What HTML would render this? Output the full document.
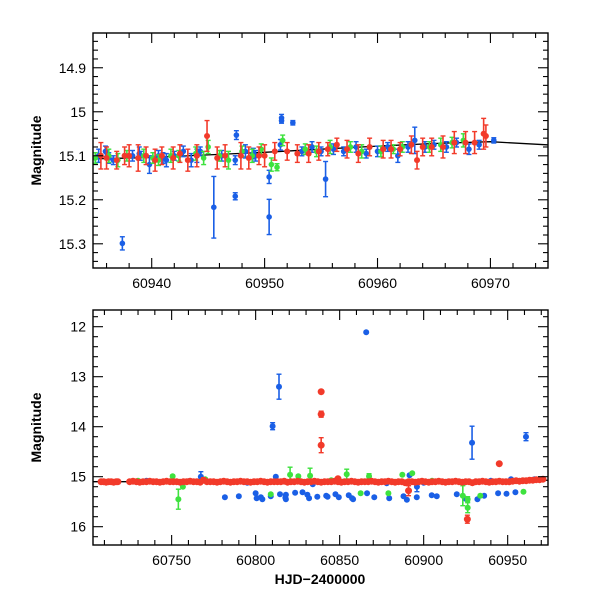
<!DOCTYPE html>
<html><head><meta charset="utf-8">
<style>
html,body{margin:0;padding:0;background:#fff;}
svg{display:block;font-family:"Liberation Sans",sans-serif;}
</style></head>
<body>
<svg id="chart" width="600" height="600" viewBox="0 0 600 600">
<defs>
<clipPath id="clipTop"><rect x="93" y="33" width="455" height="235"/></clipPath>
<clipPath id="clipBot"><rect x="93" y="310" width="455" height="235"/></clipPath>
</defs>
<g id="top"></g>
<g id="bot"></g>
</svg>
<script>
// ---------- Top panel data ----------
const topBlueDays=[60935.3,60935.9,60936.6,60937.4,60938.3,60939.0,60939.8,60940.6,60941.3,60942.0,60942.8,60943.5,60944.3,60945.5,60946.2,60947.4,60947.5,60947.4,60948.3,60949.2,60950.4,60950.4,60951.4,60951.5,60951.5,60952.5,60953.3,60954.2,60955.4,60955.0,60956.1,60957.0,60958.1,60959.0,60960.0,60960.9,60961.8,60962.7,60963.3,60964.2,60965.0,60966.1,60967.0,60968.1,60969.0,60970.3,60936.2,60938.9,60941.0,60944.0,60949.0];
const topBlueMags=[15.10,15.09,15.11,15.299,15.10,15.10,15.12,15.10,15.11,15.10,15.09,15.11,15.09,15.217,15.10,15.192,15.053,15.110,15.09,15.10,15.239,15.148,15.075,15.014,15.02,15.025,15.09,15.08,15.153,15.09,15.085,15.09,15.08,15.095,15.09,15.08,15.10,15.08,15.065,15.08,15.075,15.08,15.07,15.085,15.075,15.065,15.105,15.095,15.105,15.10,15.095];
const topBlueErrs=[0.015,0.012,0.01,0.015,0.012,0.01,0.02,0.012,0.015,0.01,0.012,0.015,0.01,0.07,0.012,0.008,0.01,0.01,0.015,0.012,0.04,0.015,0.012,0.008,0.006,0.005,0.01,0.012,0.04,0.01,0.012,0.01,0.012,0.01,0.012,0.01,0.015,0.012,0.03,0.012,0.01,0.012,0.01,0.012,0.01,0.006,0.012,0.015,0.012,0.015,0.012];
const topGreenDays=[60935.0,60936.2,60937.8,60939.3,60940.1,60941.7,60942.4,60943.9,60945.0,60946.0,60946.8,60948.0,60948.9,60949.7,60950.6,60951.1,60951.6,60953.6,60954.6,60955.8,60957.6,60958.6,60960.3,60961.4,60962.2,60964.6,60965.6,60966.6,60967.6,60937.0,60940.6,60944.6];
const topGreenMags=[15.105,15.10,15.10,15.10,15.105,15.10,15.10,15.095,15.08,15.10,15.11,15.09,15.10,15.085,15.12,15.126,15.065,15.085,15.09,15.08,15.08,15.09,15.09,15.085,15.08,15.08,15.075,15.07,15.065,15.11,15.11,15.105];
const topGreenErrs=[0.012,0.015,0.012,0.015,0.012,0.015,0.012,0.015,0.015,0.012,0.02,0.012,0.015,0.012,0.015,0.008,0.012,0.012,0.012,0.015,0.012,0.015,0.012,0.01,0.012,0.012,0.015,0.012,0.015,0.015,0.012,0.015];
const topRedDays=[60935.5,60936.0,60936.9,60937.6,60938.0,60938.8,60939.5,60940.3,60940.9,60941.9,60942.5,60943.2,60944.0,60944.9,60945.8,60946.5,60947.9,60948.6,60949.5,60950.0,60950.9,60952.0,60952.9,60953.9,60954.8,60955.6,60956.4,60957.3,60958.3,60959.3,60960.5,60961.2,60962.0,60963.0,60963.5,60964.0,60964.8,60965.8,60966.8,60967.8,60968.6,60969.4,60969.6];
const topRedMags=[15.10,15.105,15.11,15.10,15.10,15.105,15.10,15.11,15.10,15.105,15.095,15.11,15.10,15.055,15.105,15.10,15.10,15.105,15.10,15.10,15.09,15.09,15.095,15.095,15.09,15.085,15.075,15.085,15.095,15.08,15.085,15.085,15.085,15.075,15.11,15.08,15.08,15.08,15.07,15.07,15.07,15.05,15.055];
const topRedErrs=[0.03,0.025,0.02,0.02,0.025,0.03,0.02,0.025,0.02,0.025,0.02,0.025,0.025,0.035,0.025,0.025,0.03,0.025,0.02,0.025,0.02,0.02,0.02,0.02,0.02,0.015,0.015,0.02,0.02,0.02,0.02,0.02,0.015,0.02,0.02,0.02,0.02,0.025,0.025,0.025,0.025,0.035,0.025];
const topModelDays=[60933,60940,60945,60950,60955,60960,60965,60970,60975,60977];
const topModelMags=[15.108,15.104,15.098,15.092,15.085,15.078,15.072,15.068,15.075,15.078];
const topXTicks=[60940,60950,60960,60970];
const topYTicks=[14.9,15,15.1,15.2,15.3];
const topYLabels=["14.9","15","15.1","15.2","15.3"];

// ---------- Bottom panel data ----------
const botRedDays=[60708,60709.5,60711,60712.5,60714,60715.5,60717,60718,60725,60727,60729,60731,60733,60735,60737,60739,60741,60743,60745,60747,60749,60751,60753,60755,60757,60759,60761,60763,60765,60767,60769,60771,60773,60775,60777,60779,60781,60783,60785,60787,60789,60791,60793,60795,60797,60799,60801,60803,60805,60807,60809,60811,60813,60815,60817,60819,60821,60823,60825,60827,60829,60831,60833,60835,60837,60839,60841,60843,60845,60847,60849,60851,60853,60855,60857,60859,60861,60863,60865,60867,60869,60871,60873,60875,60877,60879,60881,60883,60885,60887,60889,60891,60893,60895,60897,60899,60901,60903,60905,60907,60909,60911,60913,60915,60917,60919,60921,60923,60925,60927,60929,60931,60933,60935,60937,60939,60941,60943,60945,60947,60949,60951,60953,60955,60957,60959,60961,60963,60965,60967,60969,60971,60839,60839,60839,60945,60926,60849,60891];
const botRedMags=[15.1,15.1,15.11,15.1,15.1,15.11,15.1,15.1,15.1,15.09,15.1,15.11,15.1,15.1,15.09,15.1,15.1,15.11,15.1,15.09,15.1,15.1,15.1,15.11,15.1,15.1,15.09,15.1,15.1,15.11,15.07,15.1,15.1,15.1,15.11,15.1,15.09,15.1,15.11,15.1,15.1,15.09,15.1,15.1,15.11,15.1,15.1,15.09,15.1,15.11,15.1,15.1,15.1,15.1,15.09,15.11,15.1,15.1,15.09,15.1,15.11,15.1,15.1,15.09,15.1,15.11,15.1,15.1,15.1,15.09,15.1,15.11,15.1,15.1,15.09,15.1,15.11,15.1,15.1,15.1,15.09,15.1,15.11,15.1,15.1,15.09,15.1,15.11,15.1,15.1,15.12,15.1,15.1,15.11,15.1,15.09,15.1,15.11,15.1,15.1,15.09,15.1,15.11,15.1,15.1,15.09,15.1,15.11,15.1,15.1,15.12,15.1,15.1,15.09,15.1,15.11,15.1,15.1,15.09,15.1,15.1,15.1,15.09,15.08,15.09,15.08,15.08,15.07,15.07,15.06,15.06,15.05,13.3,13.75,14.37,14.74,15.85,15.04,15.28];
const botRedErrs=[0.01,0.01,0.01,0.01,0.01,0.01,0.01,0.01,0.01,0.01,0.01,0.01,0.01,0.01,0.01,0.01,0.01,0.01,0.01,0.01,0.01,0.01,0.01,0.01,0.01,0.01,0.01,0.01,0.01,0.01,0.05,0.01,0.01,0.01,0.01,0.01,0.01,0.01,0.01,0.01,0.01,0.01,0.01,0.01,0.01,0.01,0.01,0.01,0.01,0.01,0.01,0.01,0.01,0.01,0.01,0.01,0.01,0.01,0.01,0.01,0.01,0.01,0.01,0.01,0.01,0.01,0.01,0.01,0.01,0.01,0.01,0.01,0.01,0.01,0.01,0.01,0.01,0.01,0.01,0.01,0.01,0.01,0.01,0.01,0.01,0.01,0.01,0.01,0.01,0.01,0.01,0.01,0.01,0.01,0.01,0.01,0.01,0.01,0.01,0.01,0.01,0.01,0.01,0.01,0.01,0.01,0.01,0.01,0.01,0.01,0.01,0.01,0.01,0.01,0.01,0.01,0.01,0.01,0.01,0.01,0.01,0.01,0.01,0.01,0.01,0.01,0.01,0.01,0.01,0.01,0.01,0.01,0.04,0.06,0.15,0.01,0.08,0.01,0.1];
const botBlueDays=[60781.7,60790,60800.6,60803.1,60804,60809,60814.5,60817.7,60818,60823.5,60830.8,60831.8,60836.7,60842,60842.8,60847.5,60849.5,60855.4,60857.4,60858,60866.3,60870.6,60879.5,60888,60890,60895.9,60904.8,60907.8,60919.7,60925,60932,60936,60944.3,60949.3,60954.6,60800,60818,60827.9,60767.4,60891.6,60896,60865.8,60813.9,60810.1,60928.8,60960.9,60735,60760,60775,60795,60812,60834,60852,60878,60900,60914,60940,60952,60966];
const botBlueMags=[15.41,15.39,15.43,15.41,15.45,15.39,15.35,15.42,15.45,15.32,15.36,15.43,15.4,15.38,15.4,15.35,15.41,15.37,15.43,15.45,15.33,15.41,15.43,15.39,15.46,15.41,15.37,15.39,15.35,15.44,15.45,15.38,15.33,15.34,15.31,15.33,15.36,15.31,15.0,14.97,15.2,12.11,13.2,13.99,14.32,14.2,15.08,15.09,15.1,15.12,15.0,15.15,15.1,15.13,15.12,15.1,15.08,15.05,15.05];
const botBlueErrs=[0.02,0.02,0.02,0.02,0.03,0.02,0.02,0.02,0.03,0.02,0.02,0.03,0.02,0.02,0.02,0.02,0.02,0.02,0.03,0.03,0.02,0.02,0.03,0.02,0.03,0.02,0.02,0.02,0.02,0.03,0.03,0.02,0.02,0.02,0.02,0.02,0.02,0.02,0.1,0.02,0.1,0.03,0.25,0.07,0.33,0.08,0.02,0.02,0.02,0.02,0.02,0.02,0.02,0.02,0.02,0.02,0.02,0.02,0.02];
const botGreenDays=[60750.6,60754,60756.7,60809,60820.5,60825.4,60832.4,60854.2,60862.5,60867.5,60879,60887.3,60893.2,60923.3,60926.2,60926.2,60933.7,60959.4,60730,60770,60800,60845,60905];
const botGreenMags=[14.99,15.45,15.2,15.35,14.96,14.99,14.98,14.95,15.33,14.99,15.33,14.96,14.93,15.38,15.62,15.45,15.38,15.3,15.08,15.05,15.1,15.07,15.08];
const botGreenErrs=[0.02,0.2,0.03,0.03,0.15,0.03,0.15,0.1,0.03,0.05,0.03,0.02,0.02,0.2,0.1,0.05,0.03,0.03,0.02,0.02,0.02,0.02,0.02];
const botModelDays=[60703,60720,60760,60800,60850,60900,60940,60960,60975];
const botModelMags=[15.1,15.1,15.1,15.1,15.1,15.1,15.09,15.08,15.07];
const botXTicks=[60750,60800,60850,60900,60950];
const botYTicks=[12,13,14,15,16];

const NS="http://www.w3.org/2000/svg";
function mk(tag,attrs,parent){const e=document.createElementNS(NS,tag);for(const k in attrs)e.setAttribute(k,attrs[k]);parent.appendChild(e);return e;}

function panel(g,cfg){
  const L=93,R=548,T=cfg.top,B=cfg.top+235;
  const sx=d=>L+(d-cfg.x0)/(cfg.x1-cfg.x0)*(R-L);
  const sy=m=>T+(m-cfg.y0)/(cfg.y1-cfg.y0)*(B-T);
  const data=mk('g',{'clip-path':'url(#'+cfg.clip+')'},g);
  
  
  let pts=cfg.modelD.map((d,i)=>sx(d).toFixed(1)+','+sy(cfg.modelM[i]).toFixed(1)).join(' ');
  const ml=mk('polyline',{points:pts,fill:'none',stroke:'#000','stroke-width':1.3},data);
  
  
  function series(days,mags,errs,col,name,r){
    const sg=mk('g',{},data);
    
    
    days.forEach((d,i)=>{
      const x=sx(d),y=sy(mags[i]),e=Math.abs(sy(mags[i]+errs[i])-y);
      const pg=mk('g',{stroke:col,fill:col},sg);
      
      
      if(e>2){
        mk('line',{x1:x,y1:y-e,x2:x,y2:y+e,'stroke-width':1.6},pg);
        mk('line',{x1:x-2.5,y1:y-e,x2:x+2.5,y2:y-e,'stroke-width':1.4},pg);
        mk('line',{x1:x-2.5,y1:y+e,x2:x+2.5,y2:y+e,'stroke-width':1.4},pg);
      }
      mk('circle',{cx:x,cy:y,r:r,stroke:'none'},pg);
    });
  }
  series(cfg.blueD,cfg.blueM,cfg.blueE,'#1a5fe6','blue-series',cfg.r);
  series(cfg.greenD,cfg.greenM,cfg.greenE,'#3ee23e','green-series',cfg.r);
  series(cfg.redD,cfg.redM,cfg.redE,'#f23a2a','red-series',cfg.rRed);
  const fr=mk('rect',{x:L,y:T,width:R-L,height:B-T,fill:'none',stroke:'#000','stroke-width':1.4},g);
  
  
  const tg=mk('g',{stroke:'#000','stroke-width':1.1},g);
  
  
  for(let v=Math.ceil(cfg.x0/cfg.xmin)*cfg.xmin;v<=cfg.x1;v+=cfg.xmin){
    const x=sx(v);const maj=Math.abs(v/cfg.xmaj-Math.round(v/cfg.xmaj))<1e-6;const len=maj?10:5;
    mk('line',{x1:x,y1:B,x2:x,y2:B-len},tg);mk('line',{x1:x,y1:T,x2:x,y2:T+len},tg);
  }
  const ymn=cfg.ymin;
  for(let k=Math.ceil(cfg.y0/ymn-1e-6);k*ymn<=cfg.y1+1e-9;k++){
    const v=k*ymn;const y=sy(v);const r=v/cfg.ymaj;const maj=Math.abs(r-Math.round(r))<1e-6;const len=maj?10:5;
    mk('line',{x1:L,y1:y,x2:L+len,y2:y},tg);mk('line',{x1:R,y1:y,x2:R-len,y2:y},tg);
  }
  cfg.xTicks.forEach(v=>{
    const t=mk('text',{x:sx(v),y:B+20,'text-anchor':'middle','font-size':14,fill:'#000'},g);
    t.textContent=String(v);
    
    
  });
  cfg.yTicks.forEach((v,i)=>{
    const t=mk('text',{x:L-7,y:sy(v)+5,'text-anchor':'end','font-size':14,fill:'#000'},g);
    t.textContent=cfg.yLabels[i];
    
    
  });
  const yt=mk('text',{x:0,y:0,transform:'translate(41,'+((T+B)/2)+') rotate(-90)','text-anchor':'middle','font-size':14,'font-weight':'bold',fill:'#000'},g);
  yt.textContent='Magnitude';
  
  
}

panel(document.getElementById('top'),{top:33,clip:'clipTop',x0:60934.8,x1:60975.1,y0:14.821,y1:15.355,r:2.8,rRed:3,
  xmin:2,xmaj:10,ymin:0.02,ymaj:0.1,xTicks:topXTicks,yTicks:topYTicks,yLabels:topYLabels,
  modelD:topModelDays,modelM:topModelMags,blueD:topBlueDays,blueM:topBlueMags,blueE:topBlueErrs,
  greenD:topGreenDays,greenM:topGreenMags,greenE:topGreenErrs,redD:topRedDays,redM:topRedMags,redE:topRedErrs});
panel(document.getElementById('bot'),{top:310,clip:'clipBot',x0:60703.2,x1:60974,y0:11.666,y1:16.366,r:3,rRed:3.5,
  xmin:10,xmaj:50,ymin:0.2,ymaj:1,xTicks:botXTicks,yTicks:botYTicks,yLabels:botYTicks.map(String),
  modelD:botModelDays,modelM:botModelMags,blueD:botBlueDays,blueM:botBlueMags,blueE:botBlueErrs,
  greenD:botGreenDays,greenM:botGreenMags,greenE:botGreenErrs,redD:botRedDays,redM:botRedMags,redE:botRedErrs});

const xt=document.createElementNS(NS,'text');
xt.setAttribute('x',320);xt.setAttribute('y',584);xt.setAttribute('text-anchor','middle');
xt.setAttribute('font-size',14);xt.setAttribute('font-weight','bold');
xt.textContent='HJD\u22122400000';


document.getElementById('chart').appendChild(xt);
</script>
</body></html>
